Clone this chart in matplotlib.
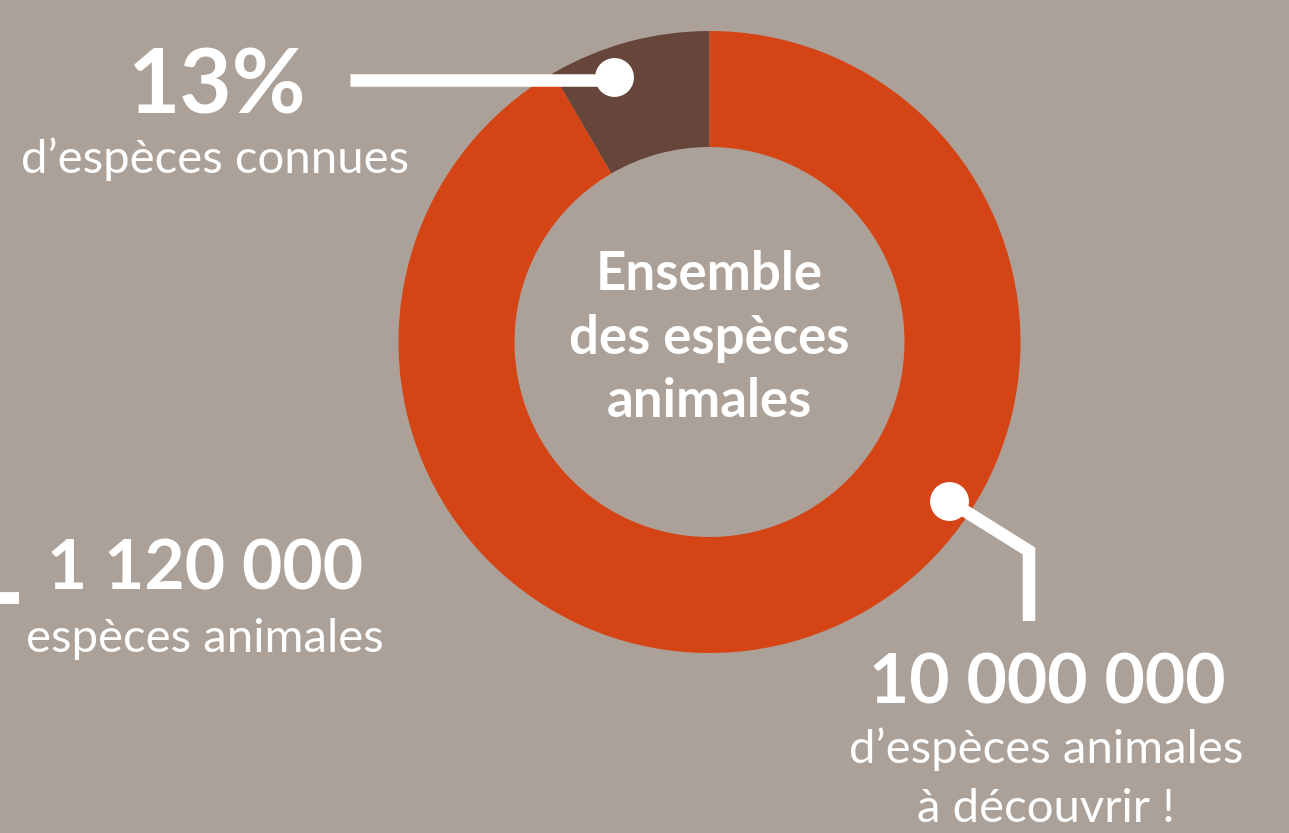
import matplotlib
matplotlib.use("Agg")
import matplotlib.pyplot as plt

# donut data (share of the ring)
labels = ["connues", "à découvrir"]
shares = [8.4, 91.6]
colors = ["#66463b", "#d54415"]

big_numbers = ["13%", "1 120 000", "10 000 000"]
captions = ["d\u2019espèces connues", "espèces animales", "d\u2019espèces animales\nà découvrir !"]
center_text = "Ensemble\ndes espèces\nanimales"

bg = "#aca198"
W, H = 1289, 833

fig = plt.figure(figsize=(W / 100, H / 100), dpi=100, facecolor=bg)
ax = fig.add_axes([0, 0, 1, 1])
ax.set_facecolor(bg)

cx, cy = 709.5, H - 342
r_out, r_in = 311, 195
ax.pie(shares, colors=colors, startangle=90, counterclock=True,
       center=(cx, cy), radius=r_out,
       wedgeprops=dict(width=r_out - r_in, linewidth=0))
ax.set_xlim(0, W)
ax.set_ylim(0, H)
ax.set_aspect("equal")
ax.axis("off")

def y(p):
    return H - p

fam = "Lato"

# leader lines
ax.plot([350, 614], [y(80), y(80)], color="white", lw=9, solid_capstyle="butt")
ax.plot([614], [y(77)], "o", color="white", ms=28, mew=0)
ax.plot([949, 1029, 1029], [y(501), y(551), y(621)], color="white", lw=9,
        solid_capstyle="butt", solid_joinstyle="miter")
ax.plot([949], [y(501)], "o", color="white", ms=28, mew=0)
ax.plot([0, 19], [y(597.5), y(597.5)], color="white", lw=8.5, solid_capstyle="butt")

# texts
ax.text(216, y(113), big_numbers[0], color="white", fontsize=65, fontweight="bold",
        family=fam, ha="center", va="baseline")
ax.text(215, y(173), captions[0], color="white", fontsize=34, family=fam,
        ha="center", va="baseline")
ax.text(205, y(590), big_numbers[1], color="white", fontsize=50, fontweight="bold",
        family=fam, ha="center", va="baseline")
ax.text(205, y(652), captions[1], color="white", fontsize=34, family=fam,
        ha="center", va="baseline")
ax.text(1047, y(703), big_numbers[2], color="white", fontsize=50, fontweight="bold",
        family=fam, ha="center", va="baseline")
for i, line in enumerate(captions[2].split("\n")):
    ax.text(1046, y(763 + 59 * i), line, color="white", fontsize=34, family=fam,
            ha="center", va="baseline")
for i, line in enumerate(center_text.split("\n")):
    ax.text(cx, y(290 + 63.5 * i), line, color="white", fontsize=38, fontweight="bold",
            family=fam, ha="center", va="baseline")

fig.savefig("out.png", dpi=100, facecolor=bg)
